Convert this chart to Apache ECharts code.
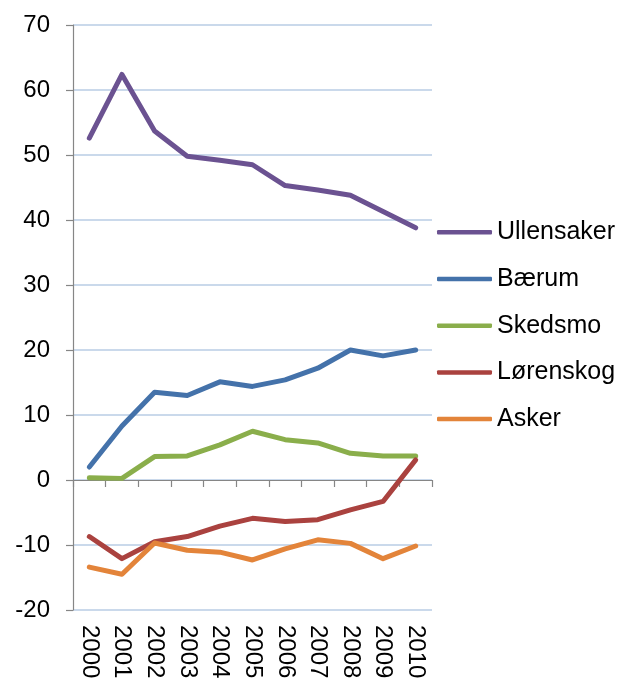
<!DOCTYPE html>
<html>
<head>
<meta charset="utf-8">
<script src="https://cdn.jsdelivr.net/npm/echarts@6/dist/echarts.min.js"></script>
<style>html,body{margin:0;padding:0;background:#fff;}#chart{width:624px;height:684px;}</style>
</head>
<body>
<div id="chart"></div>
<script>
var years = ['2000','2001','2002','2003','2004','2005','2006','2007','2008','2009','2010'];
var ullensaker = [52.6, 62.4, 53.7, 49.8, 49.2, 48.5, 45.3, 44.6, 43.8, 41.3, 38.8];
var baerum     = [2.0, 8.3, 13.5, 13.0, 15.1, 14.4, 15.4, 17.2, 20.0, 19.1, 20.0];
var skedsmo    = [0.35, 0.25, 3.6, 3.7, 5.4, 7.5, 6.2, 5.7, 4.1, 3.7, 3.7];
var lorenskog  = [-8.7, -12.1, -9.5, -8.7, -7.1, -5.9, -6.4, -6.1, -4.6, -3.3, 3.1];
var asker      = [-13.4, -14.5, -9.7, -10.8, -11.1, -12.3, -10.6, -9.2, -9.75, -12.1, -10.15];
var seriesNames = ['Ullensaker', 'Bærum', 'Skedsmo', 'Lørenskog', 'Asker'];
var seriesData = [ullensaker, baerum, skedsmo, lorenskog, asker];
var colors = ['#6B5291', '#4472AA', '#8AAE4B', '#AA423F', '#E3843A'];

var chart = echarts.init(document.getElementById('chart'));
var font = 'Liberation Sans, Arial, sans-serif';
chart.setOption({
  animation: false,
  grid: { left: 73, right: 192, top: 25, bottom: 74, containLabel: false, outerBoundsMode: 'none' },
  legend: {
    orient: 'vertical',
    left: 432,
    top: 214.8,
    icon: 'roundRect',
    itemWidth: 55,
    itemHeight: 4.5,
    itemGap: 21.7,
    textStyle: { fontFamily: font, fontSize: 25, lineHeight: 25, color: '#000' },
    data: seriesNames
  },
  xAxis: [{
    type: 'category',
    data: years,
    position: 'bottom',
    boundaryGap: true,
    axisLine: { show: false, onZero: false },
    axisTick: { show: false },
    axisLabel: { show: true, rotate: -90, margin: 15, fontFamily: font, fontSize: 24, color: '#000', interval: 0 },
    splitLine: { show: false }
  }, {
    type: 'category',
    data: years,
    position: 'bottom',
    boundaryGap: true,
    axisLine: { show: true, onZero: true, lineStyle: { color: '#868686', width: 1.2 } },
    axisTick: { show: true, interval: 0, length: 7, lineStyle: { color: '#868686', width: 1.2 } },
    axisLabel: { show: false, interval: 0 },
    splitLine: { show: false }
  }],
  yAxis: {
    type: 'value',
    min: -20, max: 70, interval: 10,
    axisLine: { show: true, lineStyle: { color: '#868686', width: 1.2 } },
    axisTick: { show: true, length: 7, lineStyle: { color: '#868686', width: 1.2 } },
    axisLabel: { margin: 23, fontFamily: font, fontSize: 24, color: '#000' },
    splitLine: { show: true, lineStyle: { color: '#B9CDE5', width: 1.5 } }
  },
  series: seriesNames.map(function (n, i) {
    return {
      name: n,
      type: 'line',
      data: seriesData[i],
      xAxisIndex: 0,
      symbol: 'none',
      showSymbol: false,
      color: colors[i],
      itemStyle: { color: colors[i] },
      lineStyle: { width: 5, color: colors[i], cap: 'round', join: 'round' }
    };
  })
});
</script>
</body>
</html>
